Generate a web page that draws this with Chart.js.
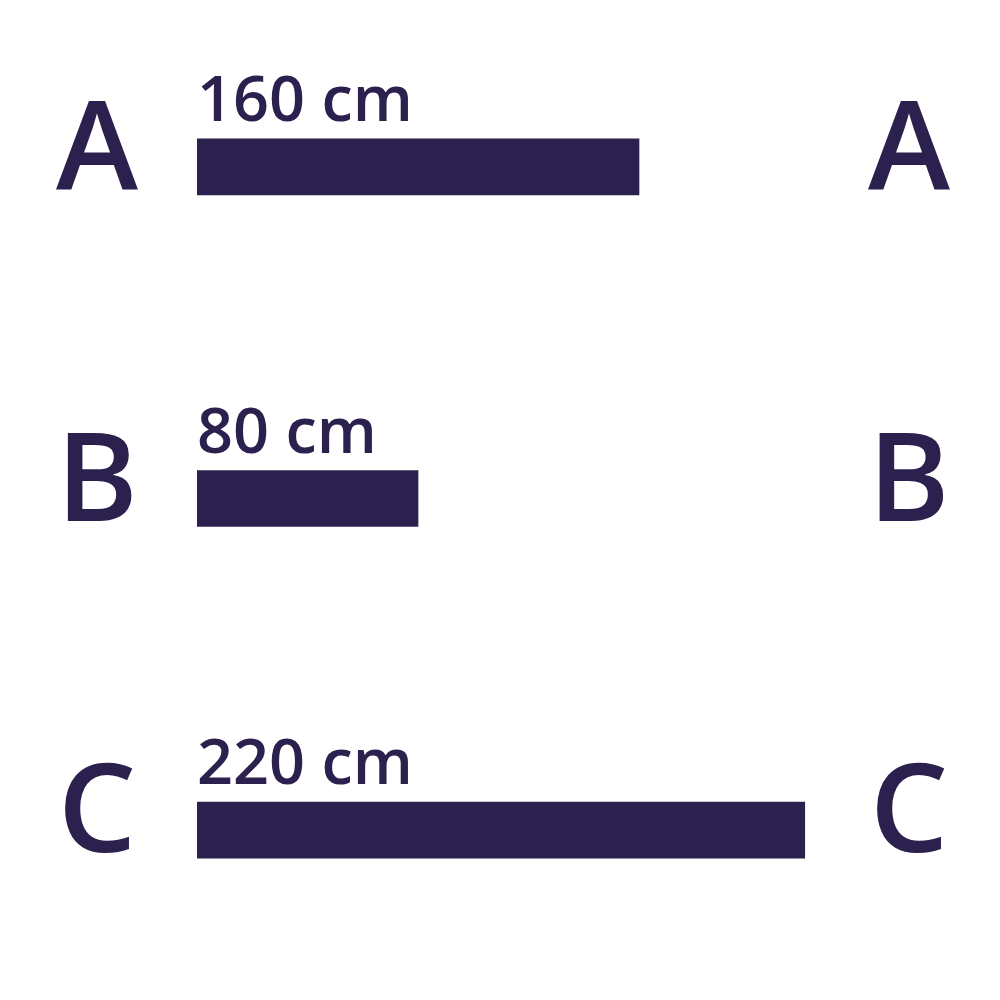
<!DOCTYPE html>
<html>
<head>
<meta charset="utf-8">
<script src="https://cdn.jsdelivr.net/npm/chart.js@4"></script>
<style>
html,body{margin:0;padding:0;background:#fff;}
#wrap{width:1000px;height:1000px;position:relative;}
</style>
</head>
<body>
<div id="wrap"><canvas id="c" width="1000" height="1000"></canvas></div>
<script>
const categories = ['A', 'B', 'C'];
const lengths = [160, 80, 220];
const unit = 'cm';
const xMax = 240;

const INK = '#2c214e';
const FONT = '"Open Sans", "DejaVu Sans", sans-serif';

const valueLabels = {
  id: 'valueLabels',
  afterDatasetsDraw(chart) {
    const ctx = chart.ctx;
    const meta = chart.getDatasetMeta(0);
    ctx.save();
    ctx.fillStyle = INK;
    ctx.font = '600 63px ' + FONT;
    ctx.textAlign = 'left';
    ctx.textBaseline = 'alphabetic';
    meta.data.forEach((bar, i) => {
      const top = bar.y - bar.height / 2;
      ctx.fillText(lengths[i] + ' ' + unit, bar.base, top - 18);
    });
    ctx.restore();
  }
};

function fitLeft(scale) { scale.width = 197; scale.paddingTop = 0; scale.paddingBottom = 0; }
function fitRight(scale) { scale.width = 140; scale.paddingTop = 0; scale.paddingBottom = 0; }

new Chart(document.getElementById('c'), {
  type: 'bar',
  data: {
    labels: categories,
    datasets: [{
      data: lengths,
      backgroundColor: INK,
      borderWidth: 0,
      barThickness: 56,
      yAxisID: 'y'
    }]
  },
  options: {
    indexAxis: 'y',
    responsive: false,
    animation: false,
    devicePixelRatio: 1,
    layout: { padding: { top: 1, bottom: 4, left: 0, right: 0 } },
    plugins: { legend: { display: false }, tooltip: { enabled: false } },
    scales: {
      x: {
        display: false,
        min: 0,
        max: xMax
      },
      y: {
        type: 'category',
        position: 'left',
        offset: true,
        grid: { display: false, drawTicks: false },
        border: { display: false },
        ticks: {
          color: INK,
          font: { family: FONT, size: 124, weight: '600', lineHeight: 1 },
          crossAlign: 'center',
          padding: 59,
          labelOffset: -13
        },
        afterFit: fitLeft
      },
      y2: {
        type: 'category',
        position: 'right',
        labels: categories,
        offset: true,
        grid: { display: false, drawTicks: false },
        border: { display: false },
        ticks: {
          color: INK,
          font: { family: FONT, size: 124, weight: '600', lineHeight: 1 },
          crossAlign: 'center',
          padding: 8,
          labelOffset: -13
        },
        afterFit: fitRight
      }
    }
  },
  plugins: [valueLabels]
});
</script>
</body>
</html>
